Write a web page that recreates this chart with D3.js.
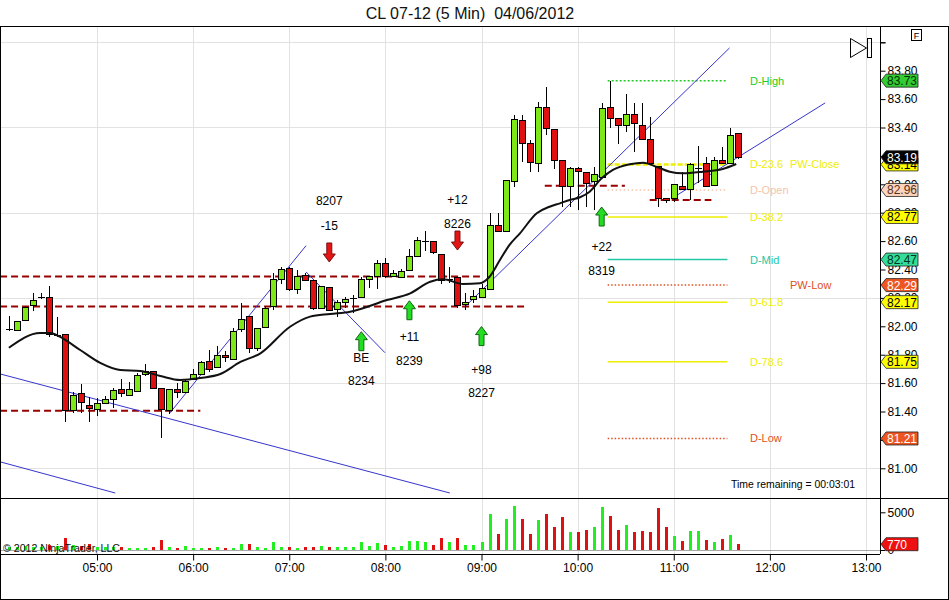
<!DOCTYPE html>
<meta charset="utf-8">
<script src="https://d3js.org/d3.v7.min.js"></script>
<style>
  body { margin: 0; background: #fff; }
  text { font-family: "Liberation Sans", Arial, sans-serif; }
</style>
<svg id="chart" width="949" height="600"></svg>
<script>

// ---- data ----
var title = "CL 07-12 (5 Min)  04/06/2012";
var firstBar = new Date(2012, 3, 6, 4, 5);   // 5 minute bars
var barMinutes = 5;

var opens  = [81.98,81.967,82.04,82.143,82.209,82.204,81.939,81.944,81.406,81.528,81.439,81.416,81.458,81.486,81.558,81.511,81.543,81.662,81.68,81.563,
              81.406,81.558,81.535,81.627,81.662,81.751,81.711,81.796,81.763,81.974,82.068,81.845,81.993,82.138,82.331,82.408,82.261,82.357,82.326,82.122,
              82.275,82.115,82.171,82.197,82.204,82.331,82.35,82.444,82.354,82.343,82.392,82.49,82.601,82.594,82.509,82.331,82.345,82.157,82.192,82.206,
              82.256,82.713,82.666,83.018,83.446,83.289,83.148,83.542,83.387,83.171,82.983,83.108,83.085,83.023,83.047,83.542,83.465,83.411,83.495,83.411,
              83.317,83.124,82.901,82.901,82.988,82.96,83.115,83.148,82.995,83.171,83.148,83.359];
var highs  = [82.07,82.04,82.14,82.233,82.233,82.286,82.064,81.944,81.54,81.594,81.50,81.493,81.509,81.564,81.629,81.606,81.669,81.732,81.687,81.563,
              81.556,81.603,81.629,81.697,81.758,81.833,81.861,81.826,81.986,82.162,82.068,81.986,82.143,82.377,82.415,82.415,82.397,82.373,82.326,82.284,
              82.275,82.185,82.209,82.22,82.35,82.354,82.467,82.479,82.397,82.401,82.542,82.627,82.671,82.594,82.509,82.42,82.345,82.233,82.256,82.298,
              82.796,82.796,83.03,83.488,83.488,83.312,83.578,83.687,83.387,83.171,83.124,83.124,83.085,83.124,83.57,83.73,83.465,83.636,83.57,83.57,
              83.476,83.124,82.901,83.0,83.089,83.152,83.27,83.19,83.19,83.265,83.394,83.359];
var lows   = [81.97,81.965,82.035,82.11,82.19,81.927,81.927,81.328,81.387,81.392,81.328,81.368,81.453,81.423,81.504,81.509,81.54,81.65,81.563,81.21,
              81.383,81.497,81.528,81.622,81.657,81.68,81.711,81.751,81.763,81.962,81.81,81.828,81.993,82.115,82.298,82.251,82.228,82.322,82.115,82.122,
              82.108,82.064,82.127,82.092,82.204,82.268,82.263,82.338,82.35,82.338,82.392,82.49,82.532,82.509,82.298,82.303,82.127,82.115,82.162,82.204,
              82.256,82.666,82.666,82.983,83.159,83.089,83.089,83.347,83.108,82.842,82.842,82.819,82.838,82.819,83.047,83.394,83.284,83.371,83.23,83.317,
              83.148,82.838,82.866,82.877,82.96,82.889,83.007,82.983,82.995,83.148,83.148,83.176];
var closes = [81.98,82.037,82.134,82.18,82.209,81.939,81.939,81.404,81.516,81.465,81.423,81.458,81.486,81.545,81.525,81.558,81.655,81.68,81.563,81.416,
              81.556,81.535,81.608,81.662,81.747,81.699,81.796,81.782,81.962,82.049,81.845,81.986,82.127,82.331,82.401,82.261,82.354,82.322,82.122,82.279,
              82.108,82.166,82.192,82.197,82.331,82.35,82.444,82.35,82.373,82.385,82.49,82.601,82.601,82.521,82.326,82.331,82.143,82.171,82.209,82.268,
              82.713,82.666,83.03,83.458,83.289,83.152,83.542,83.394,83.171,82.983,83.108,83.087,83.007,83.071,83.535,83.465,83.411,83.495,83.425,83.317,
              83.148,82.901,82.889,83.0,82.96,83.141,83.115,82.983,83.171,83.148,83.347,83.19];
var volumes = [350,450,500,450,350,700,500,1640,600,550,800,400,350,400,350,220,220,220,440,1330,
               440,310,530,220,310,310,400,310,310,750,800,400,310,1100,440,400,310,350,440,530,
               440,440,350,440,1100,575,930,710,440,575,1190,1190,1100,660,1640,1100,1640,660,663,1060,
               4770,2120,4110,5830,4110,2120,3980,4770,3050,4380,2390,2390,2650,3050,5700,4510,2650,3320,2390,2520,
               2390,5570,3050,1860,1190,2520,2520,1330,1060,1460,1990,770];

// moving average, [bar index, price]
var maPoints = [[0,81.849],[3.9,81.953],[5.2,81.953],[6.4,81.925],[8.9,81.833],[11.4,81.742],[13.9,81.692],[16.4,81.685],
                [18.9,81.650],[21.4,81.622],[23.9,81.636],[26.4,81.664],[28.9,81.749],[31.4,81.810],[35.1,81.997],[37.6,82.068],
                [40.1,82.087],[42.6,82.103],[47.2,82.185],[50.1,82.232],[52.6,82.314],[54.2,82.331],[56.7,82.298],[58.8,82.303],
                [60.0,82.349],[61.3,82.467],[62.5,82.573],[63.8,82.655],[65.9,82.796],[67.5,82.842],[68.8,82.866],[70.0,82.890],
                [71.3,82.909],[72.5,82.948],[74.0,83.042],[75.4,83.101],[77.5,83.141],[79.2,83.152],[80.8,83.124],[82.5,83.089],
                [84.1,83.078],[86.6,83.089],[89.1,83.108],[90.8,83.143]];

// daily / weekly levels
var levelNames  = ["D-High","D-23.6","PW-Close","D-Open","D-38.2","D-Mid","PW-Low","D-61.8","D-78.6","D-Low"];
var levelPrices = [83.73, 83.14, 83.14, 82.96, 82.77, 82.47, 82.29, 82.17, 81.75, 81.21];

// dashed support / resistance lines: price, from bar, to bar
var srPrices = [82.35, 82.14, 81.405, 82.99, 82.89];
var srFrom   = [-1.1, -1.1, -1.1, 66.9, 80.0];
var srTo     = [58.8, 64.8, 23.9, 76.9, 87.7];

// trend lines: [bar, price, bar, price]
var trendLines = [[-1.06,81.664,55.05,80.826],[-1.06,81.045,13.28,80.826],[20.1,81.390,37.1,82.568],
                  [37.1,82.383,46.95,81.814],[56.9,82.136,89.96,83.960],[82.85,82.904,101.9,83.573]];

// trade signals
var signals = [
  {bar:40, dir:"down", tip:82.453, text:["8207","-15"], textAt:[82.885,82.713]},
  {bar:56, dir:"down", tip:82.537, text:["+12","8226"], textAt:[82.894,82.725]},
  {bar:44, dir:"up",   tip:81.962, text:["BE","8234"],  textAt:[81.779,81.615]},
  {bar:50, dir:"up",   tip:82.180, text:["+11","8239"], textAt:[81.927,81.758]},
  {bar:59, dir:"up",   tip:81.998, text:["+98","8227"], textAt:[81.697,81.537]},
  {bar:74, dir:"up",   tip:82.840, text:["+22","8319"], textAt:[82.561,82.390]}
];

var priceTicks = d3.range(0, 16).map(function(k){ return +(81 + k * 0.2).toFixed(2); });
var gridPrices = [81.0, 81.6, 82.2, 82.8, 83.4, 84.0];
var hourTicks  = d3.range(5, 14).map(function(h){ return new Date(2012, 3, 6, h, 0); });

// ---- styles ----
var levelColor = {"D-High":"#22cc22","D-23.6":"#eeee00","PW-Close":"#eeee00","D-Open":"#f4c4aa","D-38.2":"#eeee00",
                  "D-Mid":"#22c8a8","PW-Low":"#e05020","D-61.8":"#eeee00","D-78.6":"#eeee00","D-Low":"#e05020"};
var levelDash  = {"D-High":"2,2","D-23.6":"5,2","D-Open":"1.5,2.5","PW-Low":"1.5,2","D-Low":"1.5,2"};
var markerFill = {"D-High":"#33cc33","D-23.6":"#ffff00","D-Open":"#fcd3bd","D-38.2":"#ffff00","D-Mid":"#33dd99",
                  "PW-Low":"#ee5522","D-61.8":"#ffff00","D-78.6":"#ffff00","D-Low":"#ee5522"};
var markerText = {"D-High":"#003300","D-Open":"#553322","D-Mid":"#003322","PW-Low":"#fff","D-Low":"#fff"};
var upColor = "#7ee817", downColor = "#e01010";

// ---- layout ----
var svg = d3.select("#chart");
var W = 949, H = 600, axisX = 880;
var priceTop = 27, priceBot = 498, volBot = 554;

var x = d3.scaleTime()
    .domain([new Date(2012, 3, 6, 5, 0), new Date(2012, 3, 6, 13, 0)])
    .range([97, 866]);
var y = d3.scaleLinear().domain([81, 83.8]).range([468.3, 70.7]);
var yv = d3.scaleLinear().domain([0, 5000]).range([550, 512.3]);

function barTime(i){ return new Date(firstBar.getTime() + i * barMinutes * 60000); }
function bx(i){ return x(barTime(i)); }
var fmt = d3.format(".2f");

svg.append("rect").attr("width", W).attr("height", H).attr("fill", "#fff");

var defs = svg.append("defs");
defs.append("clipPath").attr("id", "priceClip")
  .append("rect").attr("x", 1).attr("y", priceTop).attr("width", axisX - 1).attr("height", priceBot - priceTop);

// title
svg.append("text").attr("x", 470).attr("y", 19).attr("text-anchor", "middle")
  .style("font-size", "16px").style("white-space", "pre").attr("fill", "#111").text(title);

// grid
var grid = svg.append("g").attr("stroke", "#e2e2e2").attr("shape-rendering", "crispEdges");
grid.selectAll(".vg").data(hourTicks).enter().append("line")
  .attr("x1", function(d){ return Math.round(x(d)) + 0.5; })
  .attr("x2", function(d){ return Math.round(x(d)) + 0.5; })
  .attr("y1", priceTop).attr("y2", volBot);
grid.selectAll(".hg").data(gridPrices).enter().append("line")
  .attr("x1", 1).attr("x2", axisX)
  .attr("y1", function(d){ return Math.round(y(d)) + 0.5; })
  .attr("y2", function(d){ return Math.round(y(d)) + 0.5; });
svg.append("line").attr("x1", 1).attr("x2", axisX).attr("y1", 550.5).attr("y2", 550.5)
  .attr("stroke", "#a8a8a8").attr("shape-rendering", "crispEdges");

var plot = svg.append("g").attr("clip-path", "url(#priceClip)");

// level lines
var levelStart = bx(74.75), levelEnd = bx(89.7);
levelNames.forEach(function(n, k){
  if (n === "PW-Close") return;
  plot.append("line")
    .attr("x1", levelStart).attr("x2", levelEnd)
    .attr("y1", y(levelPrices[k])).attr("y2", y(levelPrices[k]))
    .attr("stroke", levelColor[n])
    .attr("stroke-width", n === "D-23.6" ? 2.5 : 1.5)
    .attr("stroke-dasharray", levelDash[n] || null);
});
levelNames.forEach(function(n, k){
  plot.append("text")
    .attr("x", n.indexOf("PW") === 0 ? 790 : 750)
    .attr("y", y(levelPrices[k]) + 4)
    .attr("fill", levelColor[n]).style("font-size", "11px").text(n);
});

// dashed support / resistance
srPrices.forEach(function(p, k){
  plot.append("line")
    .attr("x1", bx(srFrom[k])).attr("x2", bx(srTo[k]))
    .attr("y1", y(p)).attr("y2", y(p))
    .attr("stroke", "#990000").attr("stroke-width", 2).attr("stroke-dasharray", "7,4");
});

// trend lines
plot.selectAll(".trend").data(trendLines).enter().append("line")
  .attr("x1", function(d){ return bx(d[0]); }).attr("y1", function(d){ return y(d[1]); })
  .attr("x2", function(d){ return bx(d[2]); }).attr("y2", function(d){ return y(d[3]); })
  .attr("stroke", "#3535cc").attr("stroke-width", 1);

// candles
var bars = opens.map(function(o, i){
  return {i: i, o: o, h: highs[i], l: lows[i], c: closes[i], v: volumes[i]};
});
var cg = plot.append("g").attr("shape-rendering", "crispEdges");
cg.selectAll(".wick").data(bars).enter().append("line")
  .attr("x1", function(d){ return Math.round(bx(d.i)) + 0.5; })
  .attr("x2", function(d){ return Math.round(bx(d.i)) + 0.5; })
  .attr("y1", function(d){ return y(d.h); })
  .attr("y2", function(d){ return y(d.l); })
  .attr("stroke", "#000");
cg.selectAll(".body").data(bars.filter(function(d){ return d.o !== d.c; })).enter().append("rect")
  .attr("x", function(d){ return Math.round(bx(d.i)) - 2.5; })
  .attr("width", 6)
  .attr("y", function(d){ return y(Math.max(d.o, d.c)); })
  .attr("height", function(d){ return Math.max(1, Math.abs(y(d.o) - y(d.c))); })
  .attr("fill", function(d){ return d.c > d.o ? upColor : downColor; })
  .attr("stroke", "#000");
cg.selectAll(".doji").data(bars.filter(function(d){ return d.o === d.c; })).enter().append("line")
  .attr("x1", function(d){ return Math.round(bx(d.i)) - 3; })
  .attr("x2", function(d){ return Math.round(bx(d.i)) + 4; })
  .attr("y1", function(d){ return Math.round(y(d.c)) + 0.5; })
  .attr("y2", function(d){ return Math.round(y(d.c)) + 0.5; })
  .attr("stroke", "#000");

// moving average
plot.append("path").datum(maPoints)
  .attr("d", d3.line().curve(d3.curveMonotoneX)
    .x(function(d){ return bx(d[0]); }).y(function(d){ return y(d[1]); }))
  .attr("fill", "none").attr("stroke", "#111").attr("stroke-width", 2);

// signals
signals.forEach(function(s){
  var cx = bx(s.bar), ty = y(s.tip), k = s.dir === "up" ? 1 : -1;
  var pts = [[0,0],[6,8],[2.5,8],[2.5,19],[-2.5,19],[-2.5,8],[-6,8]]
    .map(function(p){ return [cx + p[0], ty + k * p[1]]; });
  plot.append("path").attr("d", "M" + pts.join("L") + "Z")
    .attr("fill", s.dir === "up" ? "#22dd22" : "#e41414")
    .attr("stroke", s.dir === "up" ? "#116611" : "#771111").attr("stroke-width", 1);
  s.text.forEach(function(t, j){
    plot.append("text").attr("x", cx).attr("y", y(s.textAt[j]) + 4.5)
      .attr("text-anchor", "middle").style("font-size", "12px").attr("fill", "#000").text(t);
  });
});

// volume bars
svg.append("g").attr("shape-rendering", "crispEdges")
  .selectAll("rect").data(bars).enter().append("rect")
  .attr("x", function(d){ return Math.round(bx(d.i)) - 1; })
  .attr("width", 3)
  .attr("y", function(d){ return yv(d.v); })
  .attr("height", function(d){ return 550 - yv(d.v); })
  .attr("fill", function(d){ return d.c >= d.o ? "#22ee22" : "#dd1111"; });

svg.append("text").attr("x", 3).attr("y", 552).style("font-size", "11px").attr("fill", "#111")
  .attr("textLength", 117).attr("lengthAdjust", "spacingAndGlyphs")
  .text("\u00a9 2012 NinjaTrader, LLC");

svg.append("text").attr("x", 731).attr("y", 488)
  .style("font-size", "11px").attr("fill", "#000")
  .attr("textLength", 124).attr("lengthAdjust", "spacingAndGlyphs")
  .text("Time remaining = 00:03:01");

// frame
var frame = svg.append("g").attr("stroke", "#000").attr("shape-rendering", "crispEdges");
frame.append("line").attr("x1", 0).attr("x2", W).attr("y1", 26.5).attr("y2", 26.5);
frame.append("line").attr("x1", 0.5).attr("x2", 0.5).attr("y1", 26).attr("y2", H);
frame.append("line").attr("x1", W - 0.5).attr("x2", W - 0.5).attr("y1", 26).attr("y2", H);
frame.append("line").attr("x1", 0).attr("x2", W).attr("y1", H - 0.5).attr("y2", H - 0.5);
frame.append("line").attr("x1", 0).attr("x2", W).attr("y1", priceBot + 0.5).attr("y2", priceBot + 0.5);
frame.append("line").attr("x1", 0).attr("x2", axisX).attr("y1", volBot + 0.5).attr("y2", volBot + 0.5);
frame.append("line").attr("x1", axisX + 0.5).attr("x2", axisX + 0.5).attr("y1", 27).attr("y2", volBot);

// price axis
var pAxis = svg.append("g").attr("transform", "translate(" + (axisX + 0.5) + ",0)")
  .call(d3.axisRight(y).tickValues(priceTicks.concat([84.0])).tickSize(5).tickPadding(2)
    .tickFormat(function(d){ return d > 83.9 ? "" : fmt(d); }));
pAxis.select(".domain").remove();
pAxis.selectAll("text").style("font-size", "12px").style("font-family", "Liberation Sans, Arial, sans-serif").attr("fill", "#000");

// volume axis
var vAxis = svg.append("g").attr("transform", "translate(" + (axisX + 0.5) + ",0)")
  .call(d3.axisRight(yv).tickValues([0, 5000]).tickSize(5).tickPadding(2).tickFormat(d3.format("d")));
vAxis.select(".domain").remove();
vAxis.selectAll("text").style("font-size", "12px").style("font-family", "Liberation Sans, Arial, sans-serif").attr("fill", "#000");

// time axis
var tAxis = svg.append("g").attr("transform", "translate(0," + (volBot + 0.5) + ")")
  .call(d3.axisBottom(x).tickValues(hourTicks).tickSize(6).tickPadding(3).tickFormat(d3.timeFormat("%H:%M")));
tAxis.select(".domain").remove();
tAxis.selectAll("text").style("font-size", "12px").style("font-family", "Liberation Sans, Arial, sans-serif").attr("fill", "#000");

// price markers on the right axis
function marker(py, fill, tcol, label){
  var g = svg.append("g");
  g.append("path")
    .attr("d", "M" + (axisX + 1) + "," + py + "L" + (axisX + 6) + "," + (py - 6.5) + "L" + (axisX + 38) + "," + (py - 6.5) +
               "L" + (axisX + 38) + "," + (py + 6.5) + "L" + (axisX + 6) + "," + (py + 6.5) + "Z")
    .attr("fill", fill).attr("stroke", "#222").attr("stroke-width", 0.8);
  g.append("text").attr("x", axisX + 7).attr("y", py + 4.5)
    .style("font-size", "12px").attr("fill", tcol).text(label);
}
levelNames.forEach(function(n, k){
  if (n === "PW-Close") return;
  marker(y(levelPrices[k]), markerFill[n], markerText[n] || "#000", fmt(levelPrices[k]));
});
marker(y(closes[closes.length - 1]), "#000", "#fff", fmt(closes[closes.length - 1]));
marker(yv(volumes[volumes.length - 1]), "#ee1111", "#fff", String(volumes[volumes.length - 1]));

// toolbar glyphs
svg.append("path").attr("d", "M850.5,38.5L866.5,48L850.5,57.5Z").attr("fill", "none").attr("stroke", "#000");
svg.append("rect").attr("x", 867.5).attr("y", 38.5).attr("width", 4).attr("height", 19).attr("fill", "none").attr("stroke", "#000");
svg.append("rect").attr("x", 911.5).attr("y", 29.5).attr("width", 10).attr("height", 11).attr("fill", "#fff").attr("stroke", "#000");
svg.append("text").attr("x", 916.5).attr("y", 38.5).attr("text-anchor", "middle").style("font-size", "9px").text("F");

</script>
